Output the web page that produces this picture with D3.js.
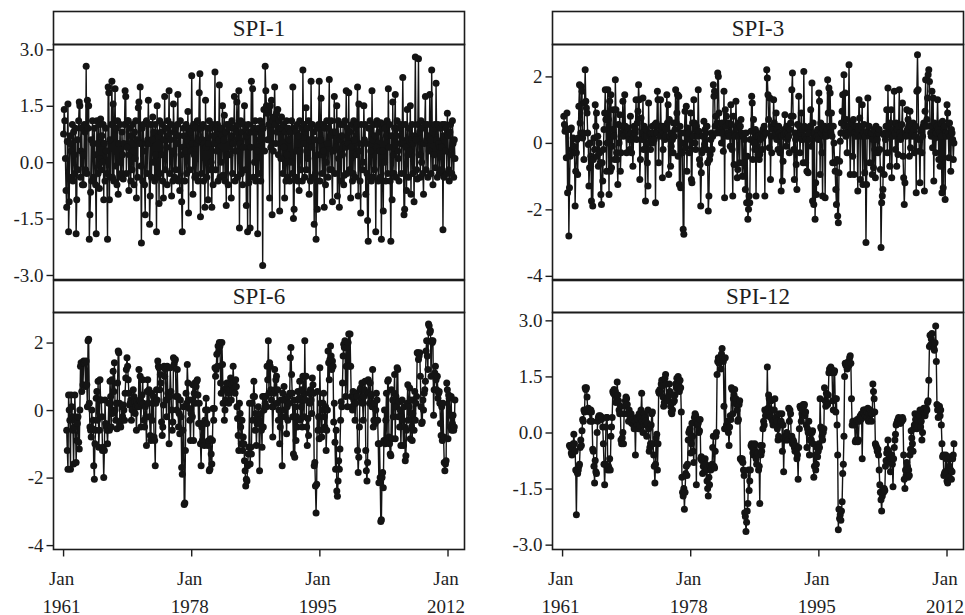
<!DOCTYPE html>
<html>
<head>
<meta charset="utf-8">
<script src="https://cdn.jsdelivr.net/npm/d3@7"></script>
<style>
  body { margin: 0; background: #fff; }
  svg { display: block; }
  text { font-family: "Liberation Serif", "DejaVu Serif", serif; fill: #1e1e1e; }
</style>
</head>
<body>
<svg id="chart" width="965" height="615"></svg>
<script>
// Monthly SPI series, January 1961 onward (null = not yet defined for the window)
const firstYear = 1961;
const panelNames = ["SPI-1", "SPI-3", "SPI-6", "SPI-12"];
const xTickYears = [1961, 1978, 1995, 2012];
const xTickMonth = "Jan";

const ticksA = [-3, -1.5, 0, 1.5, 3];
const ticksALabels = ["-3.0", "-1.5", "0.0", "1.5", "3.0"];
const ticksB = [-4, -2, 0, 2];
const ticksBLabels = ["-4", "-2", "0", "2"];

const spi1 = [
  0.75,1.4,1.1,0.1,-0.75,-1.2,0.55,1.55,-1.85,-1.05,0.5,0.7,
  0.3,-0.4,1.0,-0.5,0.8,0.2,-0.3,0.9,-1.9,-1.0,0.6,-0.2,
  1.1,1.6,1.5,-0.4,0.3,0.9,-0.6,0.2,-0.6,1.0,0.8,-0.2,
  2.55,-0.3,1.65,0.9,1.5,-2.05,-1.4,-0.8,0.6,-0.5,1.1,0.5,
  -0.4,0.9,0.2,-0.6,-1.9,1.1,0.5,-0.3,1.0,-0.7,0.1,1.15,
  -0.2,0.7,0.0,1.0,-1.0,0.5,-0.5,0.9,0.3,-0.3,-2.05,2.0,
  1.85,-1.0,0.6,-0.4,1.0,2.15,-0.4,1.55,-0.5,0.7,1.95,-0.1,
  0.9,-0.6,1.1,-0.85,0.5,0.0,1.0,-0.4,-0.3,0.8,0.2,-0.45,
  0.5,1.0,1.9,1.75,-0.3,0.4,1.1,1.1,-0.75,0.2,0.9,-0.5,
  0.7,-0.2,1.0,0.3,-0.6,0.8,0.1,1.1,-0.95,0.6,-0.4,1.45,
  1.6,0.5,2.0,-0.1,-2.15,0.9,-0.5,1.0,0.3,-0.6,-1.4,0.5,
  1.1,-0.3,0.6,1.65,0.5,-1.65,-0.9,1.0,-0.4,0.6,1.2,0.0,
  0.8,-0.5,1.0,0.2,-1.85,1.5,-0.4,0.7,-1.1,1.1,-0.3,0.8,
  0.2,1.0,-0.5,-0.95,0.6,1.75,-0.2,0.9,0.4,-0.6,1.1,0.7,
  1.9,-0.3,0.6,1.0,-0.9,0.3,-0.5,1.55,0.8,-0.4,0.9,-0.2,
  0.5,1.0,1.8,-0.5,0.7,-0.75,1.1,0.2,-1.05,-1.85,0.4,0.9,
  0.7,-0.5,0.3,1.0,-0.3,0.6,1.35,-1.35,0.9,-0.2,0.8,0.3,
  2.3,0.5,-0.85,1.0,0.2,-0.4,0.9,-0.35,0.5,1.1,-0.5,0.6,
  1.85,2.35,-1.45,0.9,-0.3,0.6,1.0,-0.5,0.5,-1.2,1.65,0.4,
  -0.4,0.9,-1.0,0.5,1.1,-0.2,0.9,0.0,-1.2,1.0,-0.6,0.7,
  0.5,2.4,-0.2,0.9,0.3,1.0,-0.5,0.6,2.05,-0.4,0.9,0.0,
  0.7,1.5,-0.35,0.6,1.25,-0.5,0.8,-1.15,1.0,0.2,-0.6,0.9,
  1.0,0.2,0.7,-0.95,1.1,-0.3,0.5,0.9,1.75,-0.5,0.3,0.8,
  1.6,-0.4,1.0,1.9,-1.75,0.5,1.1,-0.3,0.8,-0.6,0.4,1.0,
  1.5,-0.2,0.9,-1.15,0.7,-1.85,1.0,-0.55,0.8,-1.75,0.4,2.15,
  0.8,1.95,-0.4,0.9,0.0,1.1,-0.5,0.8,0.3,-1.9,0.9,-0.3,
  0.6,1.1,-0.5,0.8,1.0,-2.75,0.9,1.4,0.3,2.55,1.9,1.5,
  1.3,0.6,1.4,1.0,-0.95,1.5,0.4,1.65,-1.4,1.1,0.3,1.2,
  2.0,1.0,0.5,1.3,0.8,1.4,0.2,1.1,-1.3,0.9,0.1,1.2,
  0.9,-0.3,1.0,0.4,-0.95,0.8,-0.5,1.1,0.2,-0.4,0.9,0.6,
  -0.5,0.8,0.0,1.1,-0.3,2.0,-1.5,-1.25,0.9,-0.4,0.8,0.3,
  1.0,-0.5,0.7,-0.75,1.1,0.3,-0.2,0.9,-0.5,2.45,0.5,1.0,
  -0.4,0.8,1.45,-0.2,0.9,0.1,1.1,-0.85,0.6,-0.5,2.15,0.4,
  1.0,-0.4,0.8,-1.65,0.6,-0.3,-2.05,0.9,-1.25,0.2,1.0,2.15,
  -0.5,0.6,1.7,0.2,-0.3,1.0,0.3,-1.2,0.9,-0.6,0.0,1.1,
  0.5,-0.4,0.9,2.2,-0.2,0.7,1.1,-0.2,-1.05,0.8,0.3,1.75,
  -0.3,0.8,0.4,1.5,-0.9,1.1,0.1,-1.2,0.6,1.0,-0.5,0.7,
  0.2,1.0,-0.6,-0.35,1.1,0.4,1.9,-0.3,0.9,0.5,1.85,-0.2,
  0.8,-0.95,0.4,1.0,-0.5,-0.3,1.1,0.6,-0.4,0.9,0.2,1.0,
  2.0,-0.9,1.55,0.3,-0.5,-1.35,1.0,0.5,-0.2,0.0,1.5,0.6,
  1.0,-0.85,0.5,-0.3,-1.55,-2.1,0.9,-0.4,1.1,0.3,-0.5,1.9,
  0.6,-0.4,1.0,-0.2,0.7,-1.85,0.4,1.1,1.0,-0.5,0.8,0.3,
  -0.4,1.05,-2.05,0.9,0.3,-1.3,1.0,0.0,0.9,-0.5,0.7,1.1,
  -0.3,1.95,0.4,1.0,-0.5,-2.1,0.7,-1.0,1.6,0.2,-0.3,0.9,
  1.8,-0.4,0.7,1.1,0.3,0.1,-0.5,0.9,0.5,1.0,-0.3,0.6,
  2.25,0.5,-1.4,-1.25,1.0,0.4,-0.75,1.4,0.2,-0.4,0.9,0.3,
  1.5,-0.85,0.6,1.0,-0.3,0.5,-1.05,0.7,2.8,0.6,-0.2,-0.45,
  1.0,2.75,0.2,0.8,-0.4,1.1,0.0,0.9,-0.3,-0.85,0.5,1.0,
  1.75,-0.2,0.6,1.0,-0.4,0.7,0.3,1.8,0.6,-0.3,2.45,0.8,
  -0.6,0.9,0.2,1.0,-0.15,2.1,0.6,-0.4,1.0,0.5,-0.3,0.4,
  0.9,-0.2,0.4,1.0,-1.8,0.7,-0.4,1.0,0.3,0.9,-0.3,1.3,
  0.7,-0.2,-0.5,0.8,1.0,0.2,-0.3,1.1,0.5,-0.4,0.6,0.1
];

const spi3 = [
  null,null,0.8,0.55,0.35,0.45,-0.45,0.9,-1.5,0.4,-2.8,-1.35,
  -0.4,0.4,0.45,-0.2,-0.3,0.15,-0.1,-0.3,-1.9,-0.85,-0.3,0.1,
  -0.95,0.15,1.1,1.75,0.6,0.3,1.7,1.55,0.15,0.3,-0.5,1.2,
  2.2,1.25,1.05,0.9,0.3,-0.05,-1.3,-0.75,0.0,-0.4,-1.75,-0.5,
  -1.9,-0.5,0.15,-0.2,1.15,0.5,0.9,-0.4,0.2,-0.7,0.0,-0.3,
  -0.6,-1.55,-1.85,-0.6,-1.15,-0.2,0.4,0.9,1.6,0.7,-0.85,0.0,
  1.6,0.7,-1.55,1.25,-0.85,1.45,-0.75,-0.1,0.4,1.0,0.2,-0.5,
  1.9,1.0,-0.3,-0.5,-1.25,0.55,0.0,0.85,-0.85,-0.3,0.3,0.5,
  1.25,0.2,0.4,1.45,0.5,0.3,-0.3,0.35,0.45,0.2,0.1,-0.2,
  0.8,0.3,-0.3,0.1,-0.7,0.2,0.5,0.3,0.4,1.3,0.1,0.6,
  0.95,1.75,1.3,-1.1,-0.5,0.75,0.3,0.1,1.35,-0.2,0.5,0.2,
  -1.75,0.4,0.2,-0.6,-1.3,1.2,0.0,0.3,-0.2,0.3,0.1,0.5,
  0.0,0.3,0.1,0.55,-1.8,0.6,0.3,1.55,1.3,-0.6,0.5,0.2,
  1.3,0.4,0.5,-1.05,-0.2,0.3,0.5,0.1,0.2,0.4,1.45,0.6,
  1.15,-0.95,0.7,0.2,-0.7,-0.1,0.3,0.1,-0.3,0.6,0.2,0.4,
  1.6,0.6,0.9,1.45,-0.4,1.4,-1.25,0.5,-1.35,0.3,0.0,-0.3,
  -2.6,-2.75,0.3,0.95,-0.15,1.1,-0.85,0.45,0.2,0.3,-0.3,0.1,
  0.9,-1.1,-1.2,0.6,0.2,1.3,0.6,0.0,-0.2,0.5,0.35,0.2,
  1.6,0.35,-0.5,-0.65,-1.9,-0.9,-0.3,0.2,-0.2,0.65,-0.05,0.4,
  0.3,-0.2,0.5,-0.6,-2.05,-1.6,-0.5,-0.35,0.1,0.3,-0.2,0.2,
  1.75,1.4,1.55,0.5,0.8,0.3,0.6,2.1,2.0,0.9,0.4,0.3,
  0.4,0.0,0.6,0.3,-0.25,1.55,-1.65,1.0,0.5,0.8,0.2,0.3,
  0.3,0.6,0.2,-0.1,1.15,0.55,-0.2,-1.6,0.8,-0.65,0.3,0.2,
  1.25,0.45,-1.05,-0.8,0.6,0.2,-0.6,0.5,0.7,0.3,-1.0,0.2,
  -0.6,-1.0,0.1,-1.4,0.3,-1.8,-0.4,-2.3,-2.0,-1.6,-1.8,0.1,
  0.35,1.4,1.2,-0.5,0.7,0.0,-0.2,0.4,-1.6,0.3,0.2,-0.35,
  0.2,-0.5,-0.35,0.1,0.15,0.3,-0.2,0.4,0.2,0.5,-1.6,0.3,
  0.3,2.2,1.95,1.45,0.7,-0.15,1.35,-1.1,0.2,-0.3,0.5,0.4,
  1.3,0.6,0.2,0.3,0.9,0.1,0.4,-0.2,0.5,0.3,-0.3,0.2,
  -1.45,0.2,-1.15,-0.55,0.25,0.4,0.85,0.3,-0.1,0.5,0.1,0.3,
  0.2,-0.3,0.4,0.6,0.8,1.6,2.1,0.8,-0.2,-1.1,0.3,0.1,
  -0.65,-1.4,0.55,0.2,1.4,0.5,-0.3,0.3,0.9,0.1,0.4,-0.6,
  2.15,0.5,0.2,-0.6,0.1,-0.85,0.4,-0.9,0.3,0.1,0.5,1.0,
  -0.1,1.8,-1.75,0.6,-1.85,0.3,-2.3,-1.2,-1.55,0.2,0.4,0.1,
  1.5,1.25,-0.95,0.6,0.3,-0.3,-1.6,0.4,0.2,0.5,-1.65,0.3,
  0.2,0.4,1.9,0.9,1.65,0.5,1.5,0.3,0.9,0.2,-0.6,0.5,
  0.0,-0.6,-0.85,-1.4,-1.85,-0.5,-2.2,-2.4,-0.9,-0.55,0.05,0.3,
  0.6,0.95,1.45,0.3,2.05,0.5,1.5,0.2,0.7,-0.3,0.4,0.5,
  2.35,0.5,-0.95,0.3,0.4,0.6,-0.4,0.7,-0.95,0.3,0.5,0.2,
  0.5,0.3,-1.45,0.4,1.3,0.75,-1.1,0.2,0.5,1.15,-1.25,0.3,
  0.55,-0.9,0.2,-3.0,-1.25,0.35,1.35,0.3,0.5,-0.6,0.2,0.3,
  0.3,-0.95,0.1,-0.75,0.4,-0.2,-1.05,0.5,0.2,0.1,-0.3,0.3,
  0.4,-0.2,-0.8,-3.15,-1.8,-1.6,-1.4,0.25,-0.95,0.3,0.1,0.5,
  1.0,-0.3,1.65,0.25,0.5,-0.7,0.6,1.0,-1.05,0.3,0.2,0.4,
  1.55,0.3,-0.2,0.6,-0.7,0.4,-0.35,0.5,1.6,0.3,0.1,0.2,
  0.55,1.2,-0.4,-1.05,-1.85,-1.2,0.3,0.2,1.0,0.4,0.7,0.5,
  -0.4,0.95,-0.15,0.5,0.2,0.3,0.6,0.4,-0.3,0.2,0.5,-1.5,
  1.55,2.65,1.6,0.1,-0.25,-1.2,0.35,0.4,-0.3,0.2,0.5,0.6,
  -1.45,0.95,1.9,0.5,0.7,1.35,2.05,2.2,1.85,0.5,0.3,0.2,
  1.55,-0.15,1.35,-1.15,0.6,0.15,-0.3,0.3,0.5,1.3,0.4,-0.5,
  0.3,-0.7,0.6,0.2,-1.5,0.65,-1.35,0.45,0.5,-1.7,0.3,0.2,
  1.15,0.9,0.3,-0.45,0.6,0.2,-0.85,0.4,0.3,0.1,-0.5,0.0
];

const spi6 = [
  null,null,null,null,null,-0.6,-1.2,-1.75,0.45,0.0,-0.3,-1.75,
  0.45,0.1,-0.2,-0.6,-1.6,-0.5,0.45,-0.3,-1.55,-0.9,-0.4,-0.2,
  -0.95,-1.15,0.0,1.3,1.4,0.55,1.4,0.75,1.45,1.4,1.4,0.7,
  1.45,0.75,0.1,2.05,2.1,0.2,-0.5,-0.6,-0.8,0.0,-0.55,-0.3,
  -1.65,-2.05,-1.0,-0.6,0.35,0.55,-0.3,0.85,-1.1,-0.6,0.9,0.3,
  0.3,-0.2,-1.2,-1.1,-2.0,-1.2,0.3,-0.4,-0.5,-0.6,-1.0,-0.5,
  0.2,-0.6,0.85,0.4,-0.5,0.9,-0.1,1.15,0.55,1.4,0.0,-0.3,
  0.2,-0.55,0.8,1.75,1.7,0.2,-0.4,-0.5,-0.3,0.1,-0.2,0.15,
  0.0,-0.3,0.5,0.95,1.2,1.55,1.3,0.9,0.5,0.15,0.2,0.3,
  -0.3,0.0,0.2,0.6,0.4,0.25,-0.1,0.1,-0.6,0.25,0.15,0.1,
  1.2,0.3,1.0,-0.5,0.2,0.45,0.9,0.2,-0.3,-0.5,0.1,-0.2,
  -1.05,0.55,0.9,0.2,0.6,-0.2,-0.75,-0.9,0.5,-0.3,0.2,0.4,
  -0.8,-0.9,-1.65,0.2,0.6,0.3,1.45,1.3,1.25,0.6,1.05,0.8,
  -0.35,-0.75,-0.5,0.15,1.3,1.0,1.2,0.3,-0.2,1.3,0.5,0.4,
  -1.0,0.4,1.25,0.55,0.0,-0.6,-0.35,1.55,1.35,1.45,1.5,0.4,
  0.0,1.2,0.4,-0.5,-0.1,-0.7,0.3,-0.2,-1.7,-1.9,-0.6,0.1,
  -2.8,-2.75,-1.2,0.5,0.2,1.35,0.8,0.3,0.05,-0.3,-0.9,-0.1,
  0.3,-0.2,0.75,-0.9,0.5,0.8,0.2,0.7,0.85,0.9,0.45,-0.4,
  0.2,-0.4,-1.0,-1.65,-0.5,-0.9,-0.4,-0.95,-1.05,-0.3,0.0,0.35,
  -0.4,0.0,-1.05,-0.9,-1.8,-1.75,-0.85,-1.3,-1.6,-0.9,0.05,-0.3,
  0.05,1.25,1.0,1.2,1.65,1.3,1.9,1.75,2.0,1.9,0.8,0.5,
  2.0,1.35,0.2,0.6,-0.3,0.0,0.3,0.65,0.8,0.6,0.5,0.2,
  0.6,0.8,0.95,0.3,0.75,0.6,1.3,0.8,0.65,0.5,0.9,0.7,
  0.1,-0.25,-0.75,-1.2,0.2,-0.1,-0.5,-1.0,-0.3,-1.2,-0.8,-1.0,
  -1.5,-1.8,-2.25,-2.05,-2.1,-1.65,-1.3,-1.1,0.2,-1.6,-1.1,-1.3,
  0.2,-0.3,0.4,0.85,0.4,-0.6,-0.1,-1.05,-0.4,-0.2,0.1,-0.3,
  -1.8,-0.4,-0.1,-0.6,-1.1,0.4,-0.5,0.0,0.4,0.2,0.4,0.1,
  1.3,0.9,2.05,0.5,1.4,1.3,0.6,0.3,0.1,-0.8,0.1,0.5,
  1.2,0.6,0.9,1.0,0.2,0.6,-0.3,0.0,-1.0,-0.5,0.3,-0.2,
  -1.65,0.5,0.3,0.7,0.0,-0.2,0.3,-0.7,0.1,-0.3,0.4,0.2,
  0.5,1.55,1.85,1.05,0.5,-0.2,-1.3,0.3,-1.4,0.1,-0.9,-0.2,
  -0.5,0.55,0.3,0.35,0.85,-0.3,0.1,0.6,-0.5,1.0,0.3,-0.2,
  2.05,0.3,1.0,-0.5,-1.05,-0.25,-0.75,0.5,0.2,0.6,0.3,-0.1,
  0.95,0.75,0.5,-1.65,-1.55,-2.25,-3.05,-2.2,0.55,-0.6,-0.2,-0.85,
  1.25,0.2,-0.6,-0.8,0.0,0.2,0.5,-0.2,-0.5,0.1,-1.2,-0.6,
  0.0,1.75,1.4,0.9,1.5,1.9,1.6,1.2,1.45,1.3,-0.35,0.2,
  -0.95,-1.75,-0.6,-2.4,-2.55,-2.1,-1.5,-1.75,-1.15,-0.3,0.25,0.1,
  0.8,1.6,1.95,1.85,2.05,0.4,1.3,1.85,0.1,2.0,2.25,1.3,
  2.25,1.3,0.4,0.1,0.0,0.55,0.3,0.4,-0.3,0.2,0.5,0.4,
  -1.2,-1.85,-1.4,-0.5,0.6,0.65,0.3,0.8,0.2,-0.3,0.4,0.6,
  0.85,-1.2,-1.8,-2.1,-1.55,0.9,0.5,0.2,0.8,0.4,0.45,0.1,
  1.2,-0.5,-0.3,0.2,-0.4,0.0,0.5,0.3,-0.3,-1.0,-2.15,-1.0,
  -2.0,-3.3,-3.25,-2.0,-1.85,-2.3,-0.9,0.0,-1.0,-0.3,0.5,-0.9,
  0.85,0.9,-0.8,-1.0,-1.3,-1.35,0.6,-0.85,0.3,-0.2,0.5,1.05,
  -0.85,0.4,0.1,1.25,1.2,-0.2,0.25,-0.5,0.0,-1.05,-0.2,0.3,
  -0.3,-1.05,0.1,-0.5,-1.5,-1.35,-0.6,0.2,0.75,-0.3,0.1,0.65,
  -0.85,0.3,-0.5,-0.9,-0.1,0.3,-0.6,0.55,-0.3,0.2,0.4,1.7,
  1.7,1.5,1.6,1.7,1.0,0.1,-0.4,-0.35,0.3,0.0,0.5,0.6,
  0.85,1.75,2.05,1.6,1.2,2.55,2.5,2.3,2.35,1.0,2.05,2.0,
  2.05,-0.15,0.6,1.1,1.3,0.9,0.6,1.0,0.35,0.5,0.55,0.2,
  -0.4,-0.75,0.1,-0.9,0.2,-0.8,-1.55,-1.8,-1.6,-1.5,0.8,0.6,
  -0.85,0.45,0.35,-0.15,-0.5,0.4,-0.6,-0.4,-0.15,-0.6,-0.5,0.3
];

const spi12 = [
  null,null,null,null,null,null,null,null,null,null,null,-0.35,
  -0.35,-0.4,-0.55,-0.6,-0.4,-0.3,-0.05,-0.3,-0.5,-1.0,-2.2,-1.05,
  -1.1,-1.0,-0.9,-0.85,-0.4,-0.2,-0.35,0.05,0.35,0.3,0.6,0.55,
  1.2,1.15,1.2,0.95,0.6,0.65,0.6,0.55,0.3,0.6,0.55,0.3,
  -0.45,-0.5,-0.9,-1.35,-0.75,-1.05,-1.1,0.0,0.3,0.4,0.45,0.4,
  0.45,0.4,0.35,0.4,0.15,-0.3,-0.85,-1.4,-0.85,0.15,0.4,0.4,
  -1.0,-0.9,-0.95,-0.7,-1.0,-0.1,0.15,0.4,1.1,1.05,1.15,1.0,
  1.1,0.8,0.9,1.35,1.0,0.85,0.6,0.5,0.7,-0.2,-0.3,-0.15,
  0.0,-0.3,0.5,0.7,0.85,0.95,0.9,0.75,0.5,0.3,0.6,0.45,
  0.3,0.5,0.25,0.4,0.35,0.2,0.1,0.3,-0.6,0.3,0.4,0.2,
  0.35,0.1,0.5,0.2,0.4,0.6,1.05,0.3,0.0,0.2,0.5,0.4,
  0.3,0.2,-0.1,0.25,0.6,0.1,-0.5,-0.4,-0.3,0.2,0.5,0.55,
  -0.3,-0.6,-0.9,-1.35,-0.85,-0.15,-0.05,-1.0,-0.3,1.1,1.05,1.15,
  1.1,1.3,1.4,1.25,0.95,0.7,0.8,1.45,1.55,1.3,0.9,0.85,
  0.9,1.0,1.3,1.1,0.7,0.55,0.5,0.6,0.8,1.0,0.85,1.0,
  1.3,1.2,1.45,1.25,1.5,1.3,1.1,1.4,1.2,0.55,-1.2,-1.6,
  -1.7,-1.5,-2.05,-1.6,-1.1,-0.9,-1.15,-0.85,-0.2,0.0,0.05,0.1,
  -0.55,-0.3,0.25,-0.1,-0.5,-0.8,0.4,0.5,0.45,-1.4,0.3,0.2,
  0.25,0.0,0.05,0.35,-0.7,-0.65,-0.75,-1.1,-0.9,-0.8,-1.05,-0.7,
  -0.85,-1.0,-1.3,-1.5,-1.7,-1.2,-1.4,-0.9,-1.0,-0.95,-0.85,-0.4,
  -0.1,-0.9,-0.95,-0.5,-0.1,0.0,1.55,1.9,2.0,1.85,2.0,1.95,
  1.7,2.1,2.25,2.0,1.9,0.7,0.1,2.0,0.1,0.2,0.15,0.3,
  0.0,-0.35,0.15,0.45,0.35,1.2,1.15,0.5,0.9,1.0,1.15,0.8,
  0.9,0.75,0.6,0.3,0.35,0.75,0.85,-0.7,-0.7,-0.75,-0.7,-0.8,
  -1.0,-1.15,-2.15,-2.25,-2.65,-2.4,-2.1,-1.9,-1.0,-1.55,-1.3,-1.0,
  -0.35,-0.3,-0.4,-0.55,-0.6,-0.4,-0.3,-0.5,-0.7,-0.85,-0.6,-0.55,
  -1.0,-0.9,-1.9,-0.35,-0.6,-0.5,-0.35,0.1,0.3,0.2,0.6,0.45,
  0.6,0.5,1.75,0.65,1.0,0.9,0.5,0.4,0.85,0.6,0.3,0.2,
  0.3,0.6,0.9,0.2,0.4,0.3,0.1,-0.2,-0.1,0.5,0.2,0.25,
  0.3,0.5,-0.5,0.2,-1.05,-0.2,-0.1,-0.15,-0.2,0.0,-0.1,-0.2,
  0.65,0.3,0.6,0.5,-0.2,-0.1,-0.3,-0.2,-0.25,-0.4,-0.5,-0.35,
  -0.5,-0.7,-0.6,-1.25,-0.4,0.1,0.7,0.65,0.3,0.5,0.6,0.75,
  0.7,0.75,0.45,0.55,0.2,-0.4,0.1,0.0,0.3,-0.6,-0.2,0.0,
  -0.2,0.0,0.05,-0.3,-1.2,-0.9,-0.6,-1.0,-0.85,-0.4,-0.65,-0.5,
  -0.3,-0.4,0.9,0.15,0.1,-0.1,-0.2,0.0,0.1,1.2,0.85,0.7,
  1.05,0.8,0.75,1.0,1.6,1.7,1.65,1.75,1.7,1.6,0.85,0.6,
  1.6,1.65,0.9,0.55,0.9,0.2,-0.6,-2.6,-2.05,-2.3,-2.2,-2.35,
  -2.1,-1.85,-1.1,-0.85,-0.1,1.5,1.85,1.8,1.85,1.7,1.75,1.9,
  1.8,2.0,2.05,1.85,0.9,0.2,0.3,0.25,0.3,0.2,-0.25,-0.2,
  0.3,0.35,-0.25,-0.2,0.3,0.4,0.45,0.35,0.5,-0.7,0.4,0.6,
  0.5,0.6,0.45,0.6,0.55,0.4,0.65,0.3,0.5,0.35,0.6,0.5,
  0.3,0.5,1.3,1.1,0.9,0.55,-0.3,-0.35,-0.4,-0.5,-0.45,-0.6,
  -1.0,-1.4,-1.6,-1.8,-2.1,-1.7,-1.55,-1.6,-1.5,-1.55,-0.9,-0.75,
  -0.55,-0.45,-0.2,-0.5,-0.6,-0.8,-1.05,-0.7,-0.6,-0.85,-1.45,-0.7,
  -0.4,-0.2,-0.05,0.2,0.25,0.3,0.35,0.4,0.3,0.25,0.25,0.35,
  0.3,0.4,0.35,-0.6,-1.25,-1.5,-1.0,-1.15,-0.8,-0.9,-1.2,-1.0,
  -1.15,-0.6,-0.45,0.05,-0.15,-0.3,-0.5,0.1,0.2,0.5,0.35,0.2,
  0.1,0.15,0.35,0.5,0.45,0.6,0.15,0.3,-0.2,0.0,0.6,0.65,
  0.5,0.45,0.55,0.65,0.6,0.8,0.85,1.4,2.3,2.6,2.35,2.5,
  2.65,2.4,2.35,2.25,2.2,2.4,2.85,1.9,0.75,0.6,0.4,0.65,
  0.7,0.45,0.6,0.2,-0.3,-0.65,-0.6,-1.15,-1.1,-1.05,-0.6,-0.7,
  -1.3,-1.35,-0.7,-1.2,-0.9,-0.65,-1.0,-1.25,-1.05,-0.7,-0.6,-0.3
];

const seriesByPanel = { "SPI-1": spi1, "SPI-3": spi3, "SPI-6": spi6, "SPI-12": spi12 };

// ---- layout of the 2 x 2 trellis ----
const columns = [[53.5, 464.5], [552.5, 963.5]];
const rows = [
  { strip: [11.5, 44.5], plot: [44.5, 279.5] },
  { strip: [280.5, 312.5], plot: [312.5, 549.5] }
];
const panels = [
  { name: "SPI-1",  col: 0, row: 0, yDomain: [-3.12, 3.13], ticks: ticksA, labels: ticksALabels },
  { name: "SPI-3",  col: 1, row: 0, yDomain: [-4.11, 2.96], ticks: ticksB, labels: ticksBLabels },
  { name: "SPI-6",  col: 0, row: 1, yDomain: [-4.13, 2.89], ticks: ticksB, labels: ticksBLabels },
  { name: "SPI-12", col: 1, row: 1, yDomain: [-3.13, 3.21], ticks: ticksA, labels: ticksALabels }
];

const xDomain = [new Date(1959, 8, 1), new Date(2014, 2, 10)];
const ink = "#141414";
const frameColor = "#1c1c1c";

const svg = d3.select("#chart");

panels.forEach(p => {
  const [x0, x1] = columns[p.col];
  const r = rows[p.row];
  const x = d3.scaleTime().domain(xDomain).range([x0, x1]);
  const y = d3.scaleLinear().domain(p.yDomain).range([r.plot[1], r.plot[0]]);

  const values = seriesByPanel[p.name];
  const data = values.map((v, i) => ({ date: new Date(firstYear, i, 1), v }));
  const g = svg.append("g");

  // strip
  g.append("rect")
    .attr("x", x0).attr("y", r.strip[0])
    .attr("width", x1 - x0).attr("height", r.strip[1] - r.strip[0])
    .attr("fill", "#fff").attr("stroke", frameColor).attr("stroke-width", 1.6);
  g.append("text")
    .attr("x", (x0 + x1) / 2).attr("y", r.strip[1] - 8.5)
    .attr("text-anchor", "middle")
    .style("font-size", "23px")
    .text(p.name);

  // plot frame
  g.append("rect")
    .attr("x", x0).attr("y", r.plot[0])
    .attr("width", x1 - x0).attr("height", r.plot[1] - r.plot[0])
    .attr("fill", "none").attr("stroke", frameColor).attr("stroke-width", 1.6);

  // y axis
  const yAxis = d3.axisLeft(y)
    .tickValues(p.ticks)
    .tickFormat((d, i) => p.labels[i])
    .tickSize(7).tickPadding(3);
  const ya = g.append("g").attr("transform", `translate(${x0},0)`).call(yAxis);
  ya.select(".domain").remove();
  ya.selectAll(".tick line").attr("stroke", frameColor).attr("stroke-width", 1.4);
  ya.selectAll(".tick text")
    .style("font-family", '"Liberation Serif", serif')
    .style("font-size", "19px").attr("fill", "#1e1e1e");

  // x axis only on the bottom row
  if (p.row === 1) {
    const xa = g.append("g").attr("transform", `translate(0,${r.plot[1]})`);
    xTickYears.forEach(yr => {
      const px = x(new Date(yr, 0, 1));
      xa.append("line").attr("x1", px).attr("x2", px).attr("y1", 0).attr("y2", 7)
        .attr("stroke", frameColor).attr("stroke-width", 1.4);
      xa.append("text").attr("x", px - 2).attr("y", 35).attr("text-anchor", "middle")
        .style("font-size", "19px").text(xTickMonth);
      xa.append("text").attr("x", px - 2).attr("y", 63).attr("text-anchor", "middle")
        .style("font-size", "19px").text(yr);
    });
  }

  // series
  const line = d3.line()
    .defined(d => d.v !== null)
    .x(d => x(d.date)).y(d => y(d.v));
  g.append("path").datum(data)
    .attr("d", line)
    .attr("fill", "none").attr("stroke", ink).attr("stroke-width", 1.4);
  g.append("g").selectAll("circle")
    .data(data.filter(d => d.v !== null))
    .join("circle")
    .attr("cx", d => x(d.date)).attr("cy", d => y(d.v))
    .attr("r", 3.5).attr("fill", ink);
});
</script>
</body>
</html>
